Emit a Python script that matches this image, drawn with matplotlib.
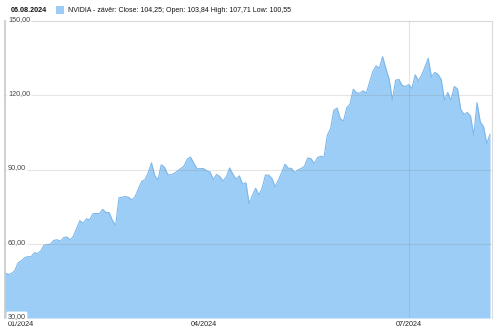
import numpy as np
import matplotlib
matplotlib.use("Agg")
import matplotlib.pyplot as plt
import matplotlib.transforms as mtransforms
from matplotlib.patches import Rectangle

# NVIDIA daily close, 02.01.2024 - 06.08.2024 (one value per trading day)
close_jan = [48.17, 47.57, 48.00, 49.10, 52.25, 53.14, 54.35, 54.82, 54.70, 56.38, 56.05,
             57.11, 59.49, 59.61, 59.87, 61.35, 61.63, 61.04, 62.44, 62.77, 61.53]
close_feb = [63.03, 66.16, 69.32, 68.24, 70.09, 69.64, 72.13, 72.23, 72.13, 73.90, 72.63,
             72.61, 69.41, 67.47, 78.55, 78.80, 79.09, 78.72, 77.66, 79.11]
close_mar = [82.28, 85.22, 85.93, 88.70, 92.67, 87.51, 85.76, 91.90, 90.88, 87.92, 87.84,
             88.45, 89.36, 90.36, 91.41, 94.26, 95.00, 92.55, 90.25, 90.36]
close_apr = [90.36, 89.44, 88.96, 85.90, 88.00, 87.10, 85.33, 87.04, 90.62, 88.12, 86.05,
             87.42, 84.04, 84.67, 76.20, 79.52, 82.44, 79.68, 82.63, 87.74, 87.74, 86.40]
close_may = [83.04, 85.82, 88.79, 92.14, 90.55, 90.41, 88.75, 89.88, 90.39, 91.36, 94.63,
             94.36, 92.48, 94.78, 95.39, 94.95, 103.80, 106.47, 113.90, 114.83, 110.50, 109.63]
close_jun = [115.00, 116.44, 122.44, 120.99, 120.89, 121.79, 120.91, 125.20, 129.61, 131.88,
             130.98, 135.58, 130.78, 126.57, 118.11, 126.09, 126.40, 123.99, 123.54]
close_jul = [124.30, 122.67, 128.28, 125.83, 128.20, 131.38, 134.91, 127.40, 129.24, 128.44,
             126.36, 117.99, 121.09, 117.93, 123.54, 122.59, 114.25, 112.28, 113.06, 111.59,
             103.73, 117.02]
close_aug = [109.21, 107.27, 100.45, 104.25]

months = [close_jan, close_feb, close_mar, close_apr, close_may, close_jun, close_jul, close_aug]
close = np.array([v for m in months for v in m])
x = np.arange(len(close))

# first trading day of 01, 04, 07
month_start = [0,
               len(close_jan) + len(close_feb) + len(close_mar),
               sum(len(m) for m in months[:6])]
month_labels = ["01/2024", "04/2024", "07/2024"]

y_ticks = [30, 60, 90, 120, 150]
y_labels = ["30,00", "60,00", "90,00", "120,00", "150,00"]

header_date = "06.08.2024"
header_text = "NVIDIA - závěr: Close: 104,25; Open: 103,84 High: 107,71 Low: 100,55"

fill_col = "#9BCDF6"
edge_col = "#7DB7EA"
grid_col = "#DADADA"

plt.rcParams["font.family"] = ["Liberation Sans", "DejaVu Sans"]

fig = plt.figure(figsize=(5.0, 3.32), dpi=100)
ax = fig.add_axes([5 / 500, 14 / 332, 487 / 500, 297 / 332])

ax.fill_between(x, 30, close, color=fill_col, lw=0, zorder=1)
ax.plot(x, close, color=edge_col, lw=0.8, zorder=2)

ax.set_xlim(0, len(close) - 1 + 0.6)
ax.set_ylim(30, 150)

for yt in y_ticks[1:4]:
    ax.axhline(yt, color="#808080", alpha=0.2, lw=0.8, zorder=3)
ax.axvline(month_start[2], color="#808080", alpha=0.2, lw=0.8, zorder=3)

ax.set_xticks([])
ax.set_yticks([])
for side in ["top", "right"]:
    ax.spines[side].set_color(grid_col)
    ax.spines[side].set_linewidth(0.8)
ax.spines["left"].set_color("#C8C8C8")
ax.spines["left"].set_linewidth(1.2)
ax.spines["bottom"].set_visible(False)

trans = mtransforms.blended_transform_factory(ax.transAxes, ax.transData)
for yt, lab in zip(y_ticks, y_labels):
    ax.text(0.006, yt + 0.6, lab, transform=trans, fontsize=5.2, color="#444444",
            ha="left", va="center", zorder=5, clip_on=False,
            bbox=dict(boxstyle="round,pad=0.2", fc="white", ec="none"))

trans_x = mtransforms.blended_transform_factory(ax.transData, fig.transFigure)
for xi, lab in zip(month_start, month_labels):
    ha = "left" if xi == 0 else "center"
    ax.text(xi + (0.9 if xi == 0 else 0), 7 / 332, lab, transform=trans_x,
            fontsize=5.2, color="#222222", ha=ha, va="center", clip_on=False)

fig.text(11 / 500, 1 - 10 / 332, header_date, fontsize=5.2, color="#111111",
         ha="left", va="center", fontweight="semibold")
fig.patches.append(Rectangle((56 / 500, 1 - 14 / 332), 8 / 500, 8 / 332,
                             transform=fig.transFigure, fc=fill_col, ec="none"))
fig.text(68 / 500, 1 - 10 / 332, header_text, fontsize=5.0, color="#111111",
         ha="left", va="center")

fig.savefig("out.png", dpi=100)
